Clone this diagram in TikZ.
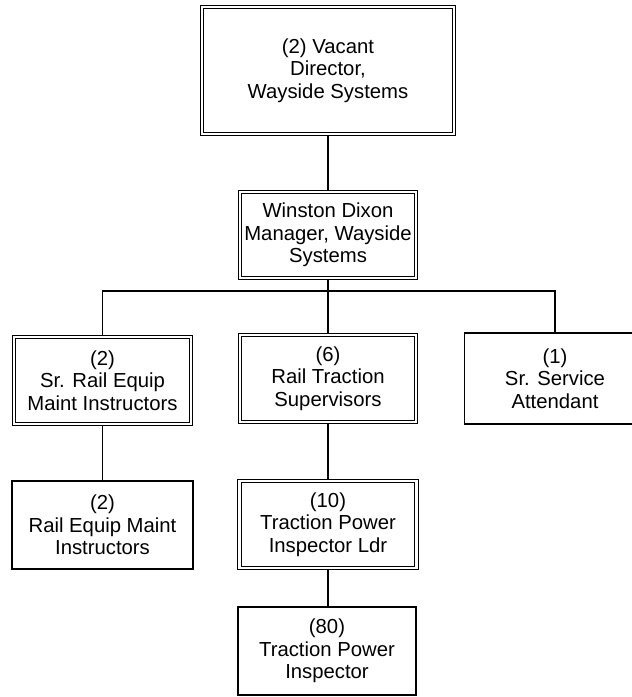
\documentclass[tikz,border=0pt]{standalone}
\usepackage{fontspec}
\setmainfont{Liberation Sans}
\begin{document}
\begin{tikzpicture}[x=1pt,y=-1pt,
  box/.style={draw, line width=1.2pt, rectangle, align=center, inner sep=0pt,
    font=\fontsize{20.3}{22.6}\selectfont},
  dbox/.style={box, double, double distance=2.6pt, line width=1.05pt},
  conn/.style={line width=1.2pt}]
\useasboundingbox (0,0) rectangle (632,697);
\node[dbox, minimum width=252pt, minimum height=127pt] (dir) at (328,70.5) {(2) Vacant\\Director,\\Wayside Systems};
\node[dbox, minimum width=176pt, minimum height=86pt] (mgr) at (328,235) {Winston Dixon\\Manager, Wayside\\Systems};
\node[dbox, minimum width=177pt, minimum height=87pt] (sre) at (102.5,380.5) {(2)\\Sr. Rail Equip\\Maint Instructors};
\node[dbox, minimum width=176pt, minimum height=87pt] (rts) at (328,378.5) {(6)\\Rail Traction\\Supervisors};
\node[box, minimum width=181pt, minimum height=91pt] (ssa) at (555,378.5) {(1)\\Sr. Service\\Attendant};
\node[box, minimum width=181pt, minimum height=88pt] (rem) at (102.5,525) {(2)\\Rail Equip Maint\\Instructors};
\node[dbox, minimum width=177pt, minimum height=87pt] (tpl) at (328,524.5) {(10)\\Traction Power\\Inspector Ldr};
\node[box, minimum width=178pt, minimum height=88pt] (tpi) at (327,651) {(80)\\Traction Power\\Inspector};
\coordinate (bus) at (328,291);
\draw[conn] (dir.south) -- (mgr.north);
\draw[conn] (mgr.south) -- (bus);
\draw[conn] (sre.north) |- (bus) -| (ssa.north);
\draw[conn] (bus) -- (rts.north);
\draw[conn] (sre.south) -- (rem.north);
\draw[conn] (rts.south) -- (tpl.north);
\draw[conn] (tpl.south) -- (tpl.south |- tpi.north);
\end{tikzpicture}
\end{document}
